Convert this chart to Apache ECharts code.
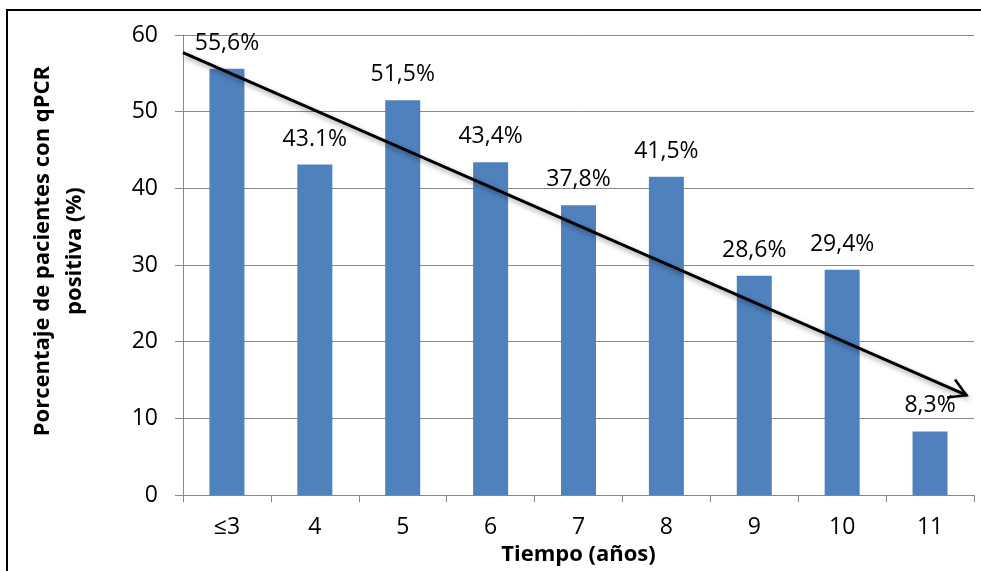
<!DOCTYPE html>
<html>
<head>
<meta charset="utf-8">
<script src="https://cdn.jsdelivr.net/npm/echarts@6/dist/echarts.min.js"></script>
<style>
  html, body { margin: 0; padding: 0; background: #fff; }
  #chart { width: 981px; height: 571px; }
</style>
</head>
<body>
<div id="chart"></div>
<script>
// Años de seguimiento y porcentaje de pacientes con qPCR positiva
const categories = ['≤3', '4', '5', '6', '7', '8', '9', '10', '11'];
const percentValues = [55.6, 43.1, 51.5, 43.4, 37.8, 41.5, 28.6, 29.4, 8.3];
const percentLabels = ['55,6%', '43.1%', '51,5%', '43,4%', '37,8%', '41,5%', '28,6%', '29,4%', '8,3%'];
const yTicks = { min: 0, max: 60, interval: 10 };

// Flecha de tendencia (eje x continuo 0–9 sobre las categorías)
const trendStart = [0, 57.7];
const trendEnd = [8.92, 13.0];

const FONT = '"Open Sans", "DejaVu Sans", sans-serif';
const GRAY = '#878787';

// Punta de flecha abierta (chevron), vértice arriba
const chevronPath = 'path://M0,-2.4 L10.04,15 L7.96,16.2 L0,2.4 L-7.96,16.2 L-10.04,15 Z';
const chevronSize = [22, 20];

const chart = echarts.init(document.getElementById('chart'), null, { renderer: 'canvas' });

chart.setOption({
  animation: false,
  backgroundColor: '#ffffff',
  graphic: [{
    type: 'rect',
    shape: { x: 7, y: 10, width: 1000, height: 1000 },
    style: { fill: 'none', stroke: '#000', lineWidth: 2 },
    silent: true,
    z: 0
  }],
  grid: { left: 183, right: 7, top: 35, bottom: 74, containLabel: false },
  xAxis: [{
    type: 'category',
    data: categories,
    name: 'Tiempo (años)',
    nameLocation: 'middle',
    nameGap: 45,
    nameTextStyle: { fontFamily: FONT, fontWeight: 'bold', fontSize: 22, color: '#000', lineHeight: 22 },
    axisLine: { lineStyle: { color: GRAY, width: 1 } },
    axisTick: { show: true, length: 7, lineStyle: { color: GRAY } },
    axisLabel: { fontFamily: FONT, fontSize: 23, color: '#000', margin: 21, lineHeight: 23 },
    splitLine: { show: false }
  }, {
    type: 'value',
    min: 0,
    max: 9,
    show: false
  }],
  yAxis: [{
    type: 'value',
    min: yTicks.min,
    max: yTicks.max,
    interval: yTicks.interval,
    name: 'Porcentaje de pacientes con qPCR\npositiva (%)',
    nameLocation: 'middle',
    nameRotate: 90,
    nameGap: 92,
    nameTextStyle: {
      fontFamily: FONT, fontWeight: 'bold', fontSize: 22, color: '#000',
      lineHeight: 32, align: 'center', padding: [0, 0, 0, 28]
    },
    axisLine: { show: true, lineStyle: { color: GRAY, width: 1 } },
    axisTick: { show: true, length: 8, lineStyle: { color: GRAY } },
    axisLabel: { fontFamily: FONT, fontSize: 23, color: '#000', margin: 25 },
    splitLine: { show: true, lineStyle: { color: GRAY, width: 1 } }
  }],
  series: [{
    type: 'bar',
    data: percentValues,
    barWidth: 35,
    itemStyle: { color: '#4f81bd' },
    label: {
      show: true,
      position: 'top',
      distance: 14,
      fontFamily: FONT,
      fontSize: 23,
      color: '#000',
      formatter: (p) => percentLabels[p.dataIndex]
    },
    z: 2
  }, {
    type: 'line',
    xAxisIndex: 1,
    yAxisIndex: 0,
    data: [trendStart, trendEnd],
    symbol: 'none',
    lineStyle: { opacity: 0 },
    silent: true,
    z: 5,
    markLine: {
      silent: true,
      animation: false,
      symbol: ['none', chevronPath],
      symbolSize: chevronSize,
      symbolOffset: [0, [0, chevronSize[1] / 2 - 2]],
      label: { show: false },
      lineStyle: {
        type: 'solid',
        color: '#000',
        width: 3,
        shadowBlur: 5,
        shadowColor: 'rgba(0,0,0,0.4)',
        shadowOffsetX: 2,
        shadowOffsetY: 3
      },
      emphasis: { disabled: true },
      data: [[{ coord: trendStart }, { coord: trendEnd }]]
    }
  }]
});
</script>
</body>
</html>
